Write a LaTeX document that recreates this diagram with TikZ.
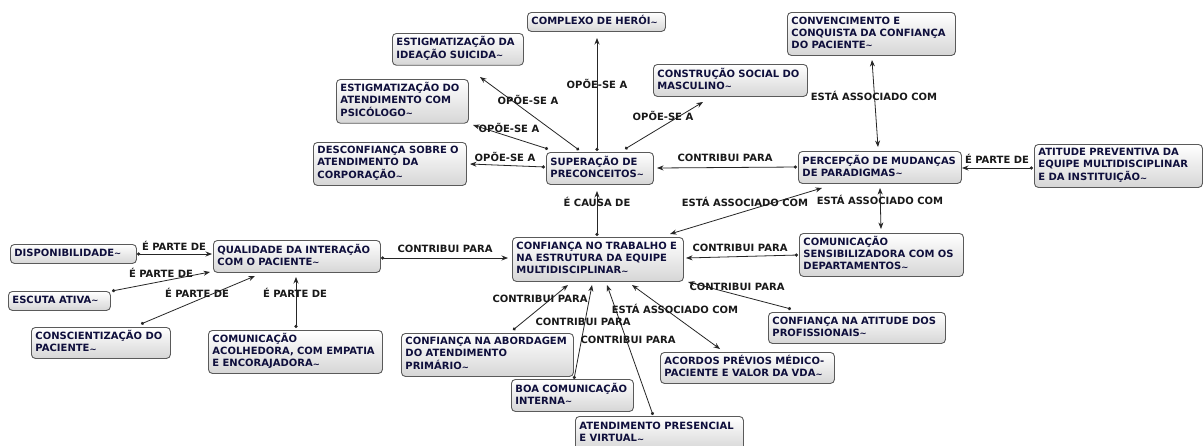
\documentclass[tikz,border=0pt]{standalone}
\usepackage{fontspec}
\newfontfamily\cmapfont{DejaVu Sans}
\usetikzlibrary{arrows.meta,calc}
\definecolor{ink}{HTML}{0F0F3C}
\definecolor{frame}{HTML}{5A5A5A}
\definecolor{shade}{HTML}{D6D6D6}
\newcommand\tl{{\fontsize{8.5}{8}\selectfont\raisebox{-0.3pt}{\textasciitilde}}}
% lines of a concept, kept unbroken and flush left
\newcommand\lns[1]{\begin{tabular}{@{}l@{}}#1\end{tabular}}
\begin{document}
\begin{tikzpicture}[x=1pt,y=-1pt,
  concept/.style={draw=frame, line width=0.9pt, rounded corners=4pt,
    top color=white, bottom color=shade, anchor=north west,
    inner xsep=4pt, inner ysep=3pt, align=left, text=ink,
    font=\cmapfont\bfseries\fontsize{10}{12}\selectfont},
  phrase/.style={inner sep=0pt, text=black!90,
    font=\cmapfont\bfseries\fontsize{10}{12}\selectfont},
  link/.style={draw=black!85, line width=0.8pt,
    {Circle[length=3.2pt]}-{Stealth[length=6.5pt,width=5pt]}},
  assoc/.style={draw=black!85, line width=0.8pt,
    {Stealth[length=6.5pt,width=5pt]}-{Stealth[length=6.5pt,width=5pt]}}]
\fill[white] (0,0) rectangle (1203,445);
\useasboundingbox (0,0) rectangle (1203,445);

% concepts (text width = box width - 8pt)
\node[concept, text width=130pt, minimum height=19pt] (hero) at (527,12) {\lns{COMPLEXO DE HERÓI\tl}};
\node[concept, text width=123pt, minimum height=31pt] (ideacao) at (392,33) {\lns{ESTIGMATIZAÇÃO DA\\IDEAÇÃO SUICIDA\tl}};
\node[concept, text width=124pt, minimum height=43pt] (psico) at (336,79) {\lns{ESTIGMATIZAÇÃO DO\\ATENDIMENTO COM\\PSICÓLOGO\tl}};
\node[concept, text width=145pt, minimum height=43pt] (corp) at (313,142) {\lns{DESCONFIANÇA SOBRE O\\ATENDIMENTO DA\\CORPORAÇÃO\tl}};
\node[concept, text width=99pt, minimum height=32pt] (sup) at (546,152) {\lns{SUPERAÇÃO DE\\PRECONCEITOS\tl}};
\node[concept, text width=146pt, minimum height=32pt] (masc) at (653,64) {\lns{CONSTRUÇÃO SOCIAL DO\\MASCULINO\tl}};
\node[concept, text width=160pt, minimum height=43pt] (conv) at (787,12) {\lns{CONVENCIMENTO E\\CONQUISTA DA CONFIANÇA\\DO PACIENTE\tl}};
\node[concept, text width=155pt, minimum height=32pt] (perc) at (798,151) {\lns{PERCEPÇÃO DE MUDANÇAS\\DE PARADIGMAS\tl}};
\node[concept, text width=160pt, minimum height=43pt] (atit) at (1034,144) {\lns{ATITUDE PREVENTIVA DA\\EQUIPE MULTIDISCIPLINAR\\E DA INSTITUIÇÃO\tl}};
\node[concept, text width=159pt, minimum height=32pt] (qual) at (213,240) {\lns{QUALIDADE DA INTERAÇÃO\\COM O PACIENTE\tl}};
\node[concept, text width=118pt, minimum height=19pt] (disp) at (10,244) {\lns{DISPONIBILIDADE\tl}};
\node[concept, text width=94pt, minimum height=19pt] (escuta) at (8,291) {\lns{ESCUTA ATIVA\tl}};
\node[concept, text width=131pt, minimum height=31pt] (consc) at (31,327) {\lns{CONSCIENTIZAÇÃO DO\\PACIENTE\tl}};
\node[concept, text width=166pt, minimum height=43pt] (acolh) at (208,330) {\lns{COMUNICAÇÃO\\ACOLHEDORA, COM EMPATIA\\E ENCORAJADORA\tl}};
\node[concept, text width=163pt, minimum height=44pt] (conf) at (512,237) {\lns{CONFIANÇA NO TRABALHO E\\NA ESTRUTURA DA EQUIPE\\MULTIDISCIPLINAR\tl}};
\node[concept, text width=156pt, minimum height=43pt] (sens) at (799,233) {\lns{COMUNICAÇÃO\\SENSIBILIZADORA COM OS\\DEPARTAMENTOS\tl}};
\node[concept, text width=169pt, minimum height=31pt] (atprof) at (768,312) {\lns{CONFIANÇA NA ATITUDE DOS\\PROFISSIONAIS\tl}};
\node[concept, text width=164pt, minimum height=43pt] (abord) at (401,333) {\lns{CONFIANÇA NA ABORDAGEM\\DO ATENDIMENTO\\PRIMÁRIO\tl}};
\node[concept, text width=114pt, minimum height=32pt] (boa) at (511,379) {\lns{BOA COMUNICAÇÃO\\INTERNA\tl}};
\node[concept, text width=160pt, minimum height=34pt] (pres) at (575,416) {\lns{ATENDIMENTO PRESENCIAL\\E VIRTUAL\tl}};
\node[concept, text width=166pt, minimum height=31pt] (acordos) at (660,352) {\lns{ACORDOS PRÉVIOS MÉDICO-\\PACIENTE E VALOR DA VDA\tl}};

% links around SUPERAÇÃO DE PRECONCEITOS
\draw[link] ($(sup.north west)+(51,-1)$) -- ($(hero.north west)+(70,26)$);
\draw[link] ($(sup.north west)+(33,-2)$) -- ($(ideacao.north west)+(88,44)$);
\draw[link] ($(sup.north west)+(2,-3)$) -- ($(psico.north west)+(137,46)$);
\draw[link] ($(sup.north west)+(-1,15)$) -- ($(corp.north west)+(157,22)$);
\draw[link] ($(sup.north west)+(79,-3)$) -- ($(masc.north west)+(50,38)$);
\draw[link] ($(perc.north west)+(-1,16)$) -- ($(sup.north west)+(111,16)$);
\draw[link] ($(conf.north west)+(85,-1)$) -- ($(sup.north west)+(51,39)$);

% links around PERCEPÇÃO DE MUDANÇAS DE PARADIGMAS
\draw[assoc] ($(perc.north west)+(80,-4)$) -- ($(conv.north west)+(85,48)$);
\draw[link] ($(atit.north west)+(-1,24)$) -- ($(perc.north west)+(164,17)$);
\draw[assoc] ($(perc.north west)+(82,37)$) -- ($(sens.north west)+(82,-4)$);
\draw[assoc] ($(conf.north west)+(158,-3)$) -- ($(perc.north west)+(24,37)$);

% links around QUALIDADE DA INTERAÇÃO
\draw[link] ($(qual.north west)+(168,18)$) -- ($(conf.north west)+(-4,21)$);
\draw[link] ($(disp.north west)+(127,10)$) -- ($(qual.north west)+(-1,14)$);
\draw[link] ($(escuta.north west)+(104,0)$) -- ($(qual.north west)+(-3,32)$);
\draw[link] ($(consc.north west)+(110,-3)$) -- ($(qual.north west)+(42,36)$);
\draw[link] ($(acolh.north west)+(88,-2)$) -- ($(qual.north west)+(83,37)$);

% links into CONFIANÇA NO TRABALHO
\draw[link] ($(sens.north west)+(-1,22)$) -- ($(conf.north west)+(174,21)$);
\draw[link] ($(atprof.north west)+(23,-3)$) -- ($(conf.north west)+(176,45)$);
\draw[link] ($(abord.north west)+(112,-3)$) -- ($(conf.north west)+(56,48)$);
\draw[link] ($(boa.north west)+(63,0)$) -- ($(conf.north west)+(80,48)$);
\draw[link] ($(pres.north west)+(78,-1)$) -- ($(conf.north west)+(95,48)$);
\draw[assoc] ($(conf.north west)+(120,48)$) -- ($(acordos.north west)+(60,-3)$);

% linking phrases
\node[phrase] (p1) at (597,84) {OPÕE-SE A};
\node[phrase] (p2) at (528,100) {OPÕE-SE A};
\node[phrase] (p3) at (509,128) {OPÕE-SE A};
\node[phrase] (p4) at (505,157) {OPÕE-SE A};
\node[phrase] (p5) at (663,116) {OPÕE-SE A};
\node[phrase] (p6) at (725,158) {CONTRIBUI PARA};
\node[phrase] (p7) at (597,202) {É CAUSA DE};
\node[phrase] (p8) at (874,96) {ESTÁ ASSOCIADO COM};
\node[phrase] (p9) at (997,159) {É PARTE DE};
\node[phrase] (p10) at (880,200) {ESTÁ ASSOCIADO COM};
\node[phrase] (p11) at (745,202) {ESTÁ ASSOCIADO COM};
\node[phrase] (p12) at (445,249) {CONTRIBUI PARA};
\node[phrase] (p13) at (174,246) {É PARTE DE};
\node[phrase] (p14) at (161,273) {É PARTE DE};
\node[phrase] (p15) at (197,293) {É PARTE DE};
\node[phrase] (p16) at (295,293) {É PARTE DE};
\node[phrase] (p17) at (740,248) {CONTRIBUI PARA};
\node[phrase] (p18) at (737,287) {CONTRIBUI PARA};
\node[phrase] (p19) at (540,299) {CONTRIBUI PARA};
\node[phrase] (p20) at (583,322) {CONTRIBUI PARA};
\node[phrase] (p21) at (675,309) {ESTÁ ASSOCIADO COM};
\node[phrase] (p22) at (628,340) {CONTRIBUI PARA};
\end{tikzpicture}
\end{document}
